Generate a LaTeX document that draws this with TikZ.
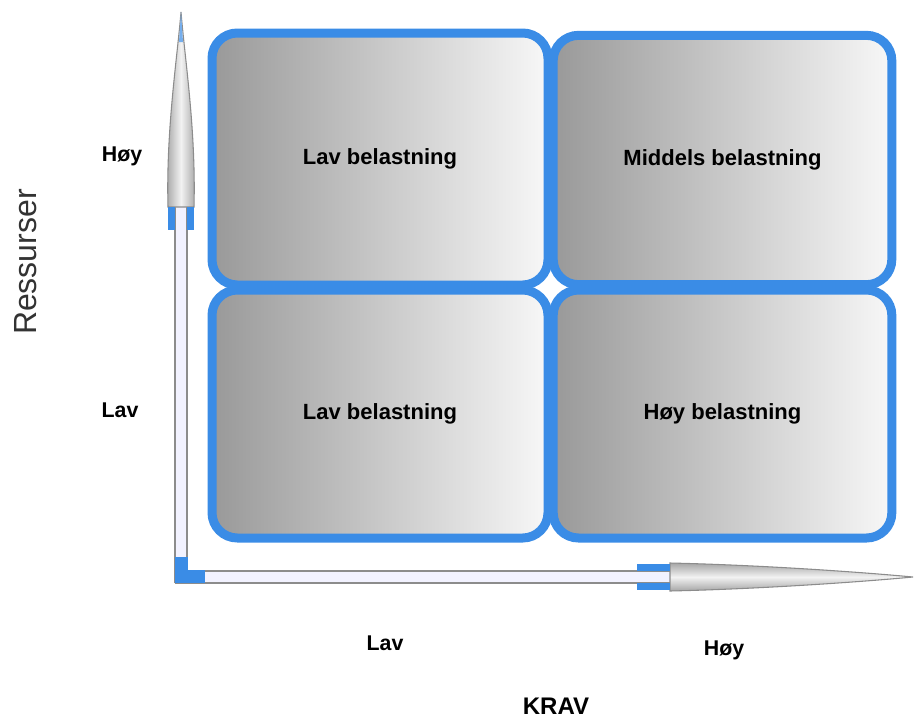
\documentclass[tikz,border=0pt]{standalone}
\usepackage{fontspec}
\setmainfont{Liberation Sans}
\usepackage{tikz}
\definecolor{boxblue}{RGB}{58,140,230}
\tikzstyle{node:box}=[rectangle,rounded corners=19pt,draw=boxblue,line width=6.75pt,left color=black!40,right color=black!3,font=\fontsize{16.5}{20}\selectfont\bfseries]
\tikzstyle{node:axislabel}=[font=\fontsize{16}{19}\selectfont\bfseries]
\tikzstyle{draw:shaft}=[line width=1.1pt,draw=black!45,double=blue!5,double distance=8pt]
\tikzstyle{draw:head}=[draw=black!45,line width=0.8pt]
\tikzstyle{draw:collar}=[fill=boxblue]

\begin{document}
\begin{tikzpicture}[x=0.75pt,y=-0.75pt]
        \useasboundingbox (0,0) rectangle (914,722);

        % Boxes
        \node[node:box,minimum width=252pt,minimum height=189pt] (tl) at (380,159) {Lav belastning};
        \node[node:box,minimum width=254pt,minimum height=187pt] (tr) at (722.5,160) {Middels belastning};
        \node[node:box,minimum width=252pt,minimum height=186pt] (bl) at (380,414) {Lav belastning};
        \node[node:box,minimum width=254pt,minimum height=186pt] (br) at (722.5,414) {Høy belastning};

        % Axis points
        \coordinate (vfoot) at (181,583);
        \coordinate (hfoot) at (175,577);
        \coordinate (ybase) at (181,207);
        \coordinate (ytip) at (181,12);
        \coordinate (xbase) at (670,577);
        \coordinate (xtip) at (913,577);

        % Shafts
        \draw[draw:shaft] (vfoot) -- (ybase);
        \draw[draw:shaft] (hfoot) -- (xbase);
        \fill[boxblue] (175,557) rectangle (188,583);
        \fill[boxblue] (175,570) rectangle (205,583);

        % Heads
        \draw[draw:head,left color=black!35,right color=black!35,middle color=black!5]
            (168,207) .. controls (166,130) and (177,60) .. (ytip)
            .. controls (185,60) and (196,130) .. (194,207) -- cycle;
        \fill[boxblue!70] (179,42) -- (ytip) -- (183,42) -- cycle;
        \draw[draw:head,top color=black!35,bottom color=black!35,middle color=black!5]
            (670,563) .. controls (760,565) and (860,572) .. (xtip)
            .. controls (860,582) and (760,589) .. (670,591) -- cycle;

        % Collars
        \fill[draw:collar] (168,207) rectangle (175,230);
        \fill[draw:collar] (187,207) rectangle (194,230);
        \fill[draw:collar] (637,564) rectangle (670,571);
        \fill[draw:collar] (637,583) rectangle (670,590);

        % Labels
        \node[node:axislabel] (hoyR) at (122,156) {Høy};
        \node[node:axislabel] (lavR) at (120,410) {Lav};
        \node[node:axislabel] (lavK) at (385,643) {Lav};
        \node[node:axislabel] (hoyK) at (724,650) {Høy};
        \node[font=\fontsize{18}{22}\selectfont\bfseries] (krav) at (556,706) {KRAV};
        \node[rotate=90,font=\fontsize{24}{28}\selectfont,text=black!80] (ressurser) at (26,262) {Ressurser};

\end{tikzpicture}
\end{document}
